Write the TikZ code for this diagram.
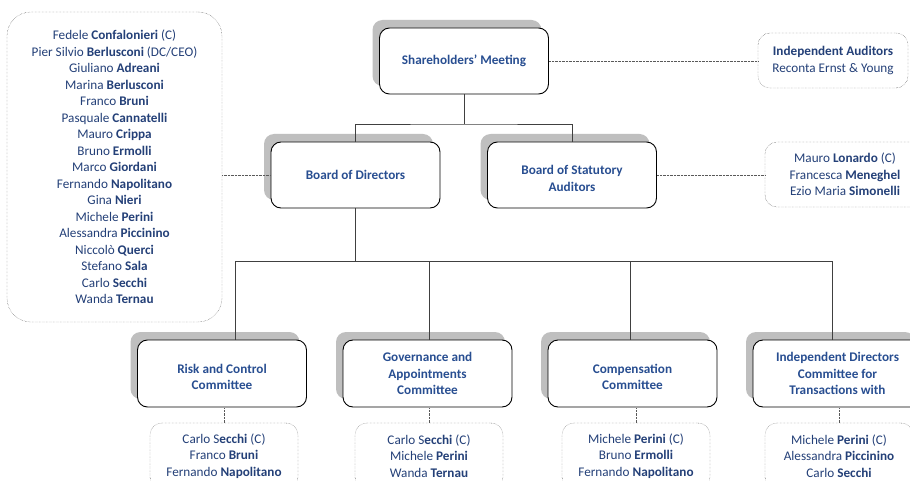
\documentclass[tikz,border=0pt]{standalone}
\usepackage{fontspec}
\setmainfont{Carlito}
\usetikzlibrary{shadows,positioning}
\definecolor{titleblue}{RGB}{40,78,145}
\definecolor{nameblue}{RGB}{36,64,120}
\definecolor{shadowgray}{RGB}{191,191,191}

\begin{document}
\begin{tikzpicture}[x=1pt,y=-1pt,semithick,
    orgbox/.style={draw,fill=white,rounded corners=10pt,line width=0.9pt,
      minimum width=169pt,minimum height=66pt,align=center,text=titleblue,
      font=\fontsize{13.2}{16.5}\selectfont\bfseries,
      drop shadow={shadow xshift=-7pt,shadow yshift=8pt,fill=shadowgray,opacity=1}},
    listbox/.style={draw=black!75,densely dotted,thin,rounded corners=12pt,
      align=center,text=nameblue,font=\fontsize{13.2}{16.5}\selectfont},
    link/.style={draw=black!75,line width=0.8pt},
    dotlink/.style={draw=black!65,densely dotted,thin}]
  \path[use as bounding box,clip] (0,0) rectangle (910,481);
  \fill[white] (0,0) rectangle (910,481);

  % governing bodies
  \node[orgbox] (sm) at (464,61) {Shareholders' Meeting};
  \node[orgbox] (bod) at (355.5,175) {Board of Directors};
  \node[orgbox] (bsa) at (572,175) {\mbox{}\\Board of Statutory\\Auditors};

  % committees
  \node[orgbox,minimum height=67pt] (risk) at (222,373.5) {\mbox{}\\Risk and Control\\Committee};
  \node[orgbox,minimum height=67pt] (gov) at (427.5,373.5) {Governance and\\Appointments\\Committee};
  \node[orgbox,minimum height=67pt] (comp) at (632.5,373.5) {\mbox{}\\Compensation\\Committee};
  \node[orgbox,minimum height=67pt] (ind) at (837.5,373.5) {Independent Directors\\Committee for\\Transactions with};

  % member lists
  \node[listbox,rounded corners=24pt,minimum width=215pt,minimum height=310pt] (bodm) at (114.5,167)
    {Fedele \textbf{Confalonieri} (C)\\Pier Silvio \textbf{Berlusconi} (DC/CEO)\\
     Giuliano \textbf{Adreani}\\Marina \textbf{Berlusconi}\\Franco \textbf{Bruni}\\
     Pasquale \textbf{Cannatelli}\\Mauro \textbf{Crippa}\\Bruno \textbf{Ermolli}\\
     Marco \textbf{Giordani}\\Fernando \textbf{Napolitano}\\Gina \textbf{Nieri}\\
     Michele \textbf{Perini}\\Alessandra \textbf{Piccinino}\\Niccolò \textbf{Querci}\\
     Stefano \textbf{Sala}\\Carlo \textbf{Secchi}\\Wanda \textbf{Ternau}};
  \node[listbox,minimum width=150pt,minimum height=55pt] (ia) at (833,60.5)
    {\textbf{Independent Auditors}\\Reconta Ernst \& Young};
  \node[listbox,minimum width=160pt,minimum height=65pt] (bsam) at (845,174.5)
    {Mauro \textbf{Lonardo} (C)\\Francesca \textbf{Meneghel}\\Ezio Maria \textbf{Simonelli}};
  \node[listbox,minimum width=148pt,minimum height=66pt] (mrisk) at (224,456)
    {Carlo S\textbf{ecchi} (C)\\Franco \textbf{Bruni}\\Fernando \textbf{Napolitano}};
  \node[listbox,minimum width=148pt,minimum height=66pt] (mgov) at (429,456)
    {Carlo S\textbf{ecchi} (C)\\Michele \textbf{Perini}\\Wanda \textbf{Ternau}};
  \node[listbox,minimum width=148pt,minimum height=66pt] (mcomp) at (636,456)
    {Michele \textbf{Perini} (C)\\Bruno \textbf{Ermolli}\\Fernando \textbf{Napolitano}};
  \node[listbox,minimum width=148pt,minimum height=66pt] (mind) at (839,456)
    {Michele \textbf{Perini} (C)\\Alessandra \textbf{Piccinino}\\Carlo \textbf{Secchi}};

  % tree
  \coordinate (j1) at (464,124);
  \coordinate (j2) at (355.5,261);
  \draw[link] (sm) -- (j1);
  \draw[link] (bod.north) |- (j1) -| (bsa.north);
  \draw[link] (bod) -- (j2);
  \foreach \c/\x in {risk/235,gov/429,comp/630,ind/832}
    \coordinate (d\c) at (\x,261);
  \draw[link] (drisk) -- (dind);
  \foreach \c in {risk,gov,comp,ind}
    \draw[link] (d\c) -- (d\c |- \c.north);
  \foreach \c in {risk,gov,comp,ind}
    \draw[dotlink] (m\c.north) -- (m\c.north |- \c.south);

  % dotted links to lists
  \draw[dotlink] (bodm.east |- bod.west) -- (bod.west);
  \draw[dotlink] (sm.east) -- (sm.east -| ia.west);
  \draw[dotlink] (bsa.east) -- (bsa.east -| bsam.west);
\end{tikzpicture}
\end{document}
